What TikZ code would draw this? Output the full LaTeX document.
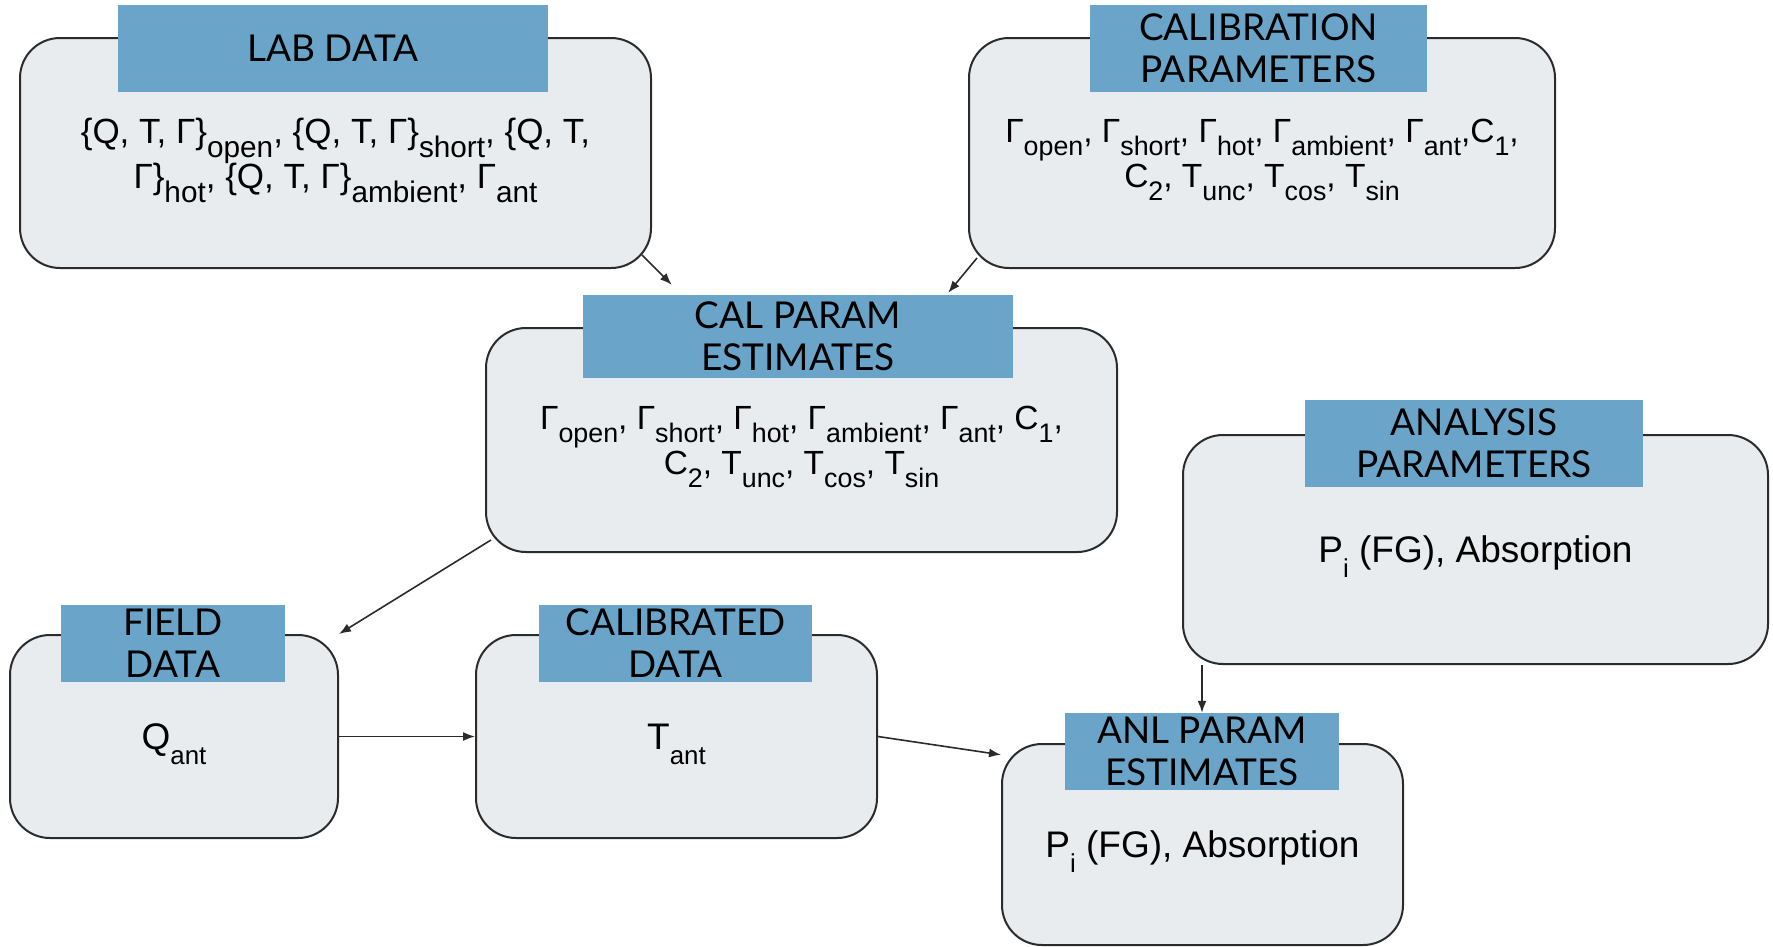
\documentclass[tikz,border=0pt]{standalone}
\usepackage{fontspec}
\usepackage{graphicx}
\setmainfont{Liberation Sans}
\newfontfamily\latofont{Lato}
\usetikzlibrary{arrows.meta,calc}
\definecolor{headblue}{HTML}{6AA5C9}
\definecolor{boxgray}{HTML}{E8ECEE}
\definecolor{edge}{HTML}{2B2B2B}
\newcommand{\lo}[2][.85]{\raisebox{-.4em}[\height][0pt]{\scalebox{#1}{#2}}}

\begin{document}
\begin{tikzpicture}[
  x=1pt, y=-1pt,
  box/.style={rectangle, draw=edge, line width=2pt, fill=boxgray, rounded corners=40pt, align=center, inner sep=0pt, text depth=0pt, font=\fontsize{37}{45}\selectfont},
  head/.style={rectangle, fill=headblue, align=center, inner sep=0pt, font=\latofont\fontsize{37}{42}\selectfont},
  link/.style={->, line width=1.6pt, edge},
  >={Latex[length=12pt,width=9pt]}
]
\useasboundingbox (0,0) rectangle (1773,946);

\node[box, minimum width=631pt, minimum height=230pt, font=\fontsize{35}{45}\selectfont] (lab) at (335.5,153)
  {\{Q, T, Γ\}\lo{open}, \{Q, T, Γ\}\lo{short}, \{Q, T,\\ Γ\}\lo{hot}, \{Q, T, Γ\}\lo{ambient}, Γ\lo{ant}};
\node[head, minimum width=430pt, minimum height=87pt] (labhead) at (333,48.5) {LAB DATA};

\node[box, minimum width=586pt, minimum height=230pt, font=\fontsize{33.5}{45}\selectfont] (calib) at (1262,153)
  {Γ\lo[.8]{open}, Γ\lo[.8]{short}, Γ\lo[.8]{hot}, Γ\lo[.8]{ambient}, Γ\lo[.8]{ant},C\lo[.8]{1},\\ C\lo[.8]{2}, T\lo[.8]{unc}, T\lo[.8]{cos}, T\lo[.8]{sin}};
\node[head, minimum width=337pt, minimum height=87pt] (calibhead) at (1258.5,48.5) {CALIBRATION\\PARAMETERS};

\node[box, minimum width=631pt, minimum height=224pt, font=\fontsize{33.5}{45}\selectfont] (calest) at (801.5,440)
  {Γ\lo[.8]{open}, Γ\lo[.8]{short}, Γ\lo[.8]{hot}, Γ\lo[.8]{ambient}, Γ\lo[.8]{ant}, C\lo[.8]{1},\\ C\lo[.8]{2}, T\lo[.8]{unc}, T\lo[.8]{cos}, T\lo[.8]{sin}};
\node[head, minimum width=430pt, minimum height=83pt] (calhead) at (798,336.5) {CAL PARAM\\ESTIMATES};

\node[box, minimum width=585pt, minimum height=229pt] (analysis) at (1475.5,549.5) {P\lo[.7]{i} (FG), Absorption};
\node[head, minimum width=338pt, minimum height=87pt] (analysishead) at (1474,443.5) {ANALYSIS\\PARAMETERS};

\node[box, minimum width=328pt, minimum height=203pt] (field) at (174,736.5) {Q\lo[.7]{ant}};
\node[head, minimum width=224pt, minimum height=77pt] (fieldhead) at (173,643.5) {FIELD\\DATA};

\node[box, minimum width=401pt, minimum height=203pt] (caldata) at (676.5,736.5) {T\lo[.7]{ant}};
\node[head, minimum width=273pt, minimum height=77pt] (caldatahead) at (675.5,643.5) {CALIBRATED\\DATA};

\node[box, minimum width=401pt, minimum height=201pt] (anl) at (1202.5,844.5) {P\lo[.7]{i} (FG), Absorption};
\node[head, minimum width=274pt, minimum height=77pt] (anlhead) at (1202,751.5) {ANL PARAM\\ESTIMATES};

\draw[link] ($(lab.south east)+(-10,-14)$) -- ($(calhead.north west)+(89,-10)$);
\draw[link] ($(calib.south west)+(9,-11)$) -- ($(calhead.north east)+(-65,-2)$);
\draw[link] ($(calest.south west)+(6,-13)$) -- (field.north east);
\draw[link] (field) -- (caldata);
\draw[link] (caldata.east) -- (anl.156);
\draw[link] (anlhead |- analysis.south) -- (anlhead);
\end{tikzpicture}
\end{document}
